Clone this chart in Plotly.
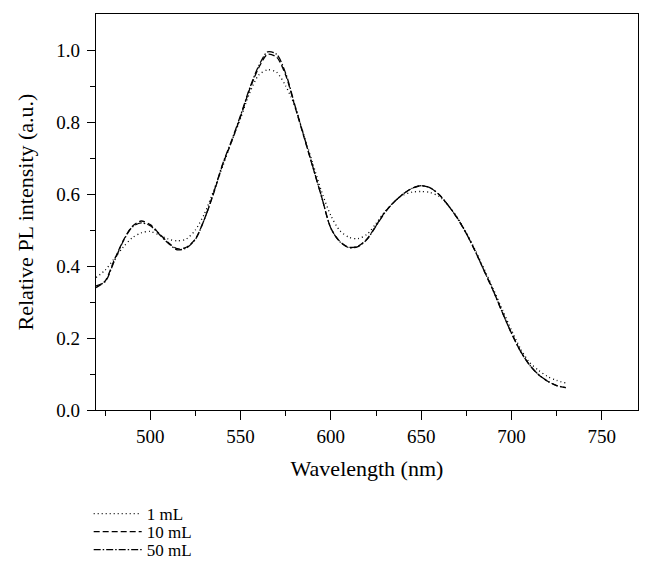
import plotly.graph_objects as go

wavelength = list(range(470, 731, 5))

pl_1ml = [0.368, 0.388, 0.420, 0.452, 0.478, 0.492, 0.496, 0.486, 0.475, 0.470,
          0.475, 0.500, 0.545, 0.608, 0.675, 0.745, 0.810, 0.880, 0.930, 0.945,
          0.938, 0.900, 0.845, 0.765, 0.685, 0.605, 0.540, 0.498, 0.480, 0.476,
          0.488, 0.518, 0.552, 0.578, 0.597, 0.605, 0.607, 0.604, 0.593, 0.568,
          0.535, 0.492, 0.443, 0.390, 0.335, 0.278, 0.222, 0.170, 0.132, 0.110,
          0.093, 0.082, 0.075]

pl_10ml = [0.340, 0.358, 0.415, 0.470, 0.510, 0.525, 0.515, 0.490, 0.465, 0.448,
           0.452, 0.475, 0.530, 0.600, 0.680, 0.745, 0.815, 0.890, 0.950, 0.988,
           0.980, 0.930, 0.845, 0.760, 0.675, 0.590, 0.505, 0.468, 0.452, 0.455,
           0.475, 0.512, 0.550, 0.578, 0.600, 0.616, 0.623, 0.617, 0.598, 0.568,
           0.533, 0.490, 0.440, 0.385, 0.330, 0.270, 0.213, 0.163, 0.125, 0.098,
           0.080, 0.068, 0.062]

pl_50ml = [0.345, 0.356, 0.412, 0.468, 0.508, 0.520, 0.512, 0.488, 0.463, 0.445,
           0.450, 0.474, 0.530, 0.602, 0.682, 0.748, 0.818, 0.893, 0.955, 0.995,
           0.988, 0.935, 0.848, 0.762, 0.676, 0.590, 0.505, 0.467, 0.451, 0.454,
           0.474, 0.511, 0.549, 0.578, 0.600, 0.616, 0.623, 0.617, 0.598, 0.568,
           0.533, 0.490, 0.440, 0.385, 0.330, 0.270, 0.213, 0.163, 0.125, 0.098,
           0.080, 0.068, 0.062]

series = [
    ("1 mL", pl_1ml, "1px,3px", "legend"),
    ("10 mL", pl_10ml, "6px,3px", "legend2"),
    ("50 mL", pl_50ml, "7px,2px,1.5px,2px", "legend3"),
]

FONT = "Liberation Serif"

fig = go.Figure()
for name, vals, dash, leg in series:
    fig.add_trace(go.Scatter(
        x=wavelength, y=vals, name=name, mode="lines", legend=leg,
        line=dict(color="black", width=1.3, dash=dash, shape="spline", smoothing=0.8),
    ))

def leg_style(ypos):
    return dict(
        x=-0.0135, y=ypos, xanchor="left", yanchor="middle",
        font=dict(family=FONT, size=17, color="black"),
        bgcolor="rgba(0,0,0,0)", itemwidth=48,
    )

fig.update_layout(
    width=653, height=584,
    margin=dict(l=88, r=23, t=6, b=182),
    paper_bgcolor="white", plot_bgcolor="white",
    font=dict(family=FONT, size=18, color="black"),
    showlegend=True,
    legend=leg_style(-0.2626),
    legend2=leg_style(-0.3081),
    legend3=leg_style(-0.3535),
)

fig.update_xaxes(
    range=[470, 770], tickvals=[500, 550, 600, 650, 700, 750],
    ticks="outside", ticklen=9, tickwidth=1.2, tickcolor="black",
    showline=True, linecolor="black", linewidth=1.3, mirror=True,
    showgrid=False, zeroline=False,
    minor=dict(tickvals=[475, 525, 575, 625, 675, 725], ticks="outside",
               ticklen=5, tickwidth=1.2, tickcolor="black", showgrid=False),
    title=dict(text="Wavelength (nm)", font=dict(family=FONT, size=22), standoff=14),
    tickfont=dict(family=FONT, size=19),
)
fig.update_yaxes(
    range=[0, 1.1], tickvals=[0, 0.2, 0.4, 0.6, 0.8, 1.0], tickformat=".1f",
    ticks="outside", ticklen=8, tickwidth=1.2, tickcolor="black",
    showline=True, linecolor="black", linewidth=1.3, mirror=True,
    showgrid=False, zeroline=False,
    minor=dict(tickvals=[0.1, 0.3, 0.5, 0.7, 0.9], ticks="outside",
               ticklen=5, tickwidth=1.2, tickcolor="black", showgrid=False),
    title=dict(text="Relative PL intensity (a.u.)", font=dict(family=FONT, size=22), standoff=16),
    tickfont=dict(family=FONT, size=19),
    ticklabelstandoff=3,
)

fig.write_html("out.html")
